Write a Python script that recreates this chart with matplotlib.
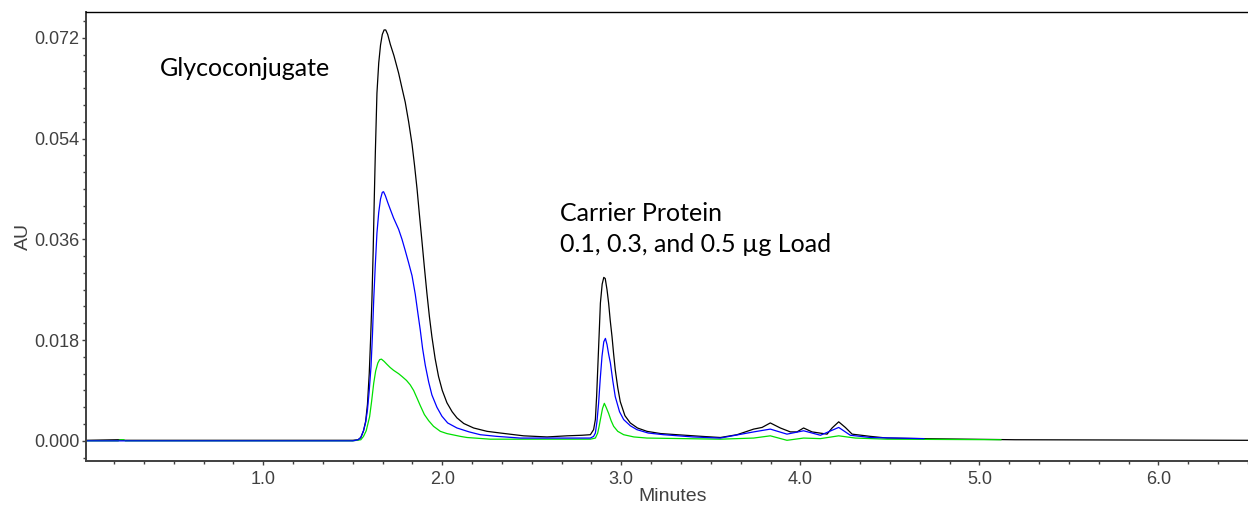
import numpy as np
import matplotlib
matplotlib.use("Agg")
import matplotlib.pyplot as plt
from matplotlib.ticker import MultipleLocator, FormatStrFormatter

## Chromatogram traces (time in minutes, absorbance in AU)
## 0.5 ug load
time_black = [0.01, 0.19, 0.23, 1.50, 1.530, 1.545, 1.560, 1.572, 1.582, 1.592,
              1.600, 1.607, 1.614, 1.620, 1.626, 1.635, 1.645, 1.655, 1.665, 1.675,
              1.684, 1.695, 1.710, 1.730, 1.756, 1.775, 1.793, 1.812, 1.831, 1.845,
              1.859, 1.872, 1.886, 1.900, 1.914, 1.928, 1.942, 1.960, 1.979, 2.000,
              2.026, 2.055, 2.082, 2.120, 2.175, 2.250, 2.324, 2.454, 2.585, 2.697,
              2.780, 2.827, 2.845, 2.855, 2.862, 2.868, 2.876, 2.883, 2.893, 2.902,
              2.910, 2.920, 2.929, 2.938, 2.948, 2.957, 2.966, 2.980, 2.994, 3.020,
              3.050, 3.090, 3.143, 3.220, 3.311, 3.450, 3.553, 3.646, 3.739, 3.786,
              3.832, 3.888, 3.944, 3.981, 4.018, 4.065, 4.149, 4.177, 4.214, 4.251,
              4.289, 4.391, 4.484, 4.670, 5.20, 6.50]
au_black = [0.0001, 0.0002, 0.0001, 0.0001, 0.0002, 0.0006, 0.0018, 0.0035, 0.0065, 0.0120,
            0.0185, 0.0252, 0.0340, 0.0431, 0.0514, 0.0621, 0.0675, 0.0707, 0.0726, 0.0734,
            0.0734, 0.0726, 0.0708, 0.0688, 0.0657, 0.0630, 0.0605, 0.0570, 0.0530, 0.0492,
            0.0450, 0.0405, 0.0358, 0.0310, 0.0264, 0.0222, 0.0186, 0.0147, 0.0115, 0.0090,
            0.0068, 0.0052, 0.0041, 0.0031, 0.0023, 0.0017, 0.0014, 0.0009, 0.0007, 0.0009,
            0.0010, 0.0011, 0.0020, 0.0038, 0.0080, 0.0127, 0.0190, 0.0246, 0.0280, 0.0292,
            0.0290, 0.0270, 0.0246, 0.0215, 0.0186, 0.0155, 0.0127, 0.0095, 0.0070, 0.0045,
            0.0032, 0.0023, 0.0017, 0.0013, 0.0011, 0.0008, 0.0006, 0.0011, 0.0021, 0.0024,
            0.0032, 0.0023, 0.0016, 0.0016, 0.0023, 0.0016, 0.0012, 0.0023, 0.0034, 0.0024,
            0.0012, 0.0008, 0.0005, 0.0004, 0.0002, 0.0001]

## 0.3 ug load
time_blue = [0.01, 0.23, 0.32, 1.50, 1.530, 1.545, 1.560, 1.572, 1.582, 1.592,
             1.602, 1.610, 1.617, 1.626, 1.635, 1.645, 1.655, 1.665, 1.672, 1.682,
             1.695, 1.709, 1.728, 1.756, 1.775, 1.793, 1.812, 1.831, 1.849, 1.865,
             1.877, 1.890, 1.905, 1.924, 1.942, 1.970, 1.998, 2.030, 2.082, 2.150,
             2.212, 2.305, 2.436, 2.827, 2.845, 2.855, 2.864, 2.873, 2.882, 2.892,
             2.902, 2.911, 2.920, 2.929, 2.939, 2.952, 2.966, 2.990, 3.013, 3.050,
             3.087, 3.150, 3.236, 3.400, 3.553, 3.739, 3.832, 3.925, 4.018, 4.112,
             4.214, 4.279, 4.391, 4.690]
au_blue = [0.0, 0.0, 0.0, 0.0, 0.0002, 0.0006, 0.0018, 0.0033, 0.0055, 0.0090,
           0.0133, 0.0190, 0.0252, 0.0315, 0.0371, 0.0408, 0.0432, 0.0444, 0.0445, 0.0438,
           0.0426, 0.0414, 0.0398, 0.0378, 0.0360, 0.0340, 0.0318, 0.0295, 0.0262, 0.0225,
           0.0198, 0.0165, 0.0135, 0.0105, 0.0082, 0.0060, 0.0044, 0.0032, 0.0023, 0.0016,
           0.0011, 0.0008, 0.0005, 0.0005, 0.0008, 0.0014, 0.0035, 0.0067, 0.0110, 0.0151,
           0.0177, 0.0183, 0.0172, 0.0155, 0.0139, 0.0108, 0.0079, 0.0052, 0.0038, 0.0027,
           0.0020, 0.0014, 0.0011, 0.0007, 0.0005, 0.0016, 0.0021, 0.0012, 0.0018, 0.0010,
           0.0024, 0.0010, 0.0006, 0.0004]

## 0.1 ug load
time_green = [0.01, 0.19, 0.20, 0.22, 0.23, 1.50, 1.545, 1.560, 1.575, 1.594,
              1.605, 1.617, 1.628, 1.640, 1.650, 1.660, 1.675, 1.690, 1.709, 1.728,
              1.756, 1.775, 1.800, 1.821, 1.840, 1.858, 1.877, 1.900, 1.924, 1.951,
              1.989, 2.026, 2.101, 2.138, 2.268, 2.827, 2.855, 2.868, 2.876, 2.883,
              2.895, 2.905, 2.915, 2.929, 2.943, 2.957, 2.980, 3.013, 3.070, 3.143,
              3.553, 3.739, 3.832, 3.925, 4.018, 4.112, 4.214, 4.307, 4.484, 5.12]
au_green = [0.0, 0.0, 0.0002, 0.0002, 0.0, 0.0, 0.0002, 0.0008, 0.0018, 0.0043,
            0.0070, 0.0103, 0.0125, 0.0139, 0.0145, 0.0146, 0.0142, 0.0137, 0.0131, 0.0126,
            0.0120, 0.0115, 0.0108, 0.0100, 0.0090, 0.0077, 0.0063, 0.0047, 0.0036, 0.0026,
            0.0017, 0.0013, 0.0008, 0.0006, 0.0003, 0.0003, 0.0005, 0.0014, 0.0026, 0.0038,
            0.0058, 0.0067, 0.0060, 0.0049, 0.0036, 0.0026, 0.0017, 0.0011, 0.0007, 0.0005,
            0.0003, 0.0005, 0.0009, 0.0001, 0.0005, 0.0004, 0.0009, 0.0005, 0.0003, 0.0002]

x_ticks = [1.0, 2.0, 3.0, 4.0, 5.0, 6.0]
y_ticks = [0.000, 0.018, 0.036, 0.054, 0.072]

plt.rcParams["font.family"] = ["Liberation Sans", "DejaVu Sans"]

fig = plt.figure(figsize=(12.48, 5.05), dpi=100)
ax = fig.add_axes([0.0689, 0.0871, 0.9311, 0.8891])

## Draw traces
ax.plot(time_black, au_black, color="black", lw=0.9)
ax.plot(time_green, au_green, color="#00e000", lw=0.9)
ax.plot(time_blue, au_blue, color="#0000ff", lw=0.9)

ax.set_xlim(0.01, 6.5)
ax.set_ylim(-0.0036, 0.0766)

ax.set_xticks(x_ticks)
ax.set_yticks(y_ticks)
ax.xaxis.set_major_formatter(FormatStrFormatter("%.1f"))
ax.yaxis.set_major_formatter(FormatStrFormatter("%.3f"))
ax.xaxis.set_minor_locator(MultipleLocator(1 / 6))
ax.yaxis.set_minor_locator(MultipleLocator(0.003))

ax.tick_params(axis="both", which="major", direction="out", length=3,
               width=1, color="#404040", labelsize=13, labelcolor="#404040")
ax.tick_params(axis="both", which="minor", direction="out", length=2,
               width=1, color="#404040")
ax.tick_params(axis="x", which="major", pad=4)
ax.tick_params(axis="y", which="major", pad=1.5)

for side in ["left", "bottom"]:
    ax.spines[side].set_color("#404040")
    ax.spines[side].set_linewidth(1.4)
ax.spines["top"].set_color("black")
ax.spines["top"].set_linewidth(1.0)
ax.spines["right"].set_visible(False)

ax.set_xlabel("Minutes", fontsize=14, color="#404040", labelpad=0.3)
ax.xaxis.label.set_x(0.505)
ax.set_ylabel("AU", fontsize=14, color="#404040", labelpad=2)

## Peak annotations
ax.text(0.425, 0.0652, "Glycoconjugate", fontsize=18, family="Lato",
        ha="left", va="baseline", color="black")
ax.text(2.659, 0.0392, "Carrier Protein", fontsize=18, family="Lato",
        ha="left", va="baseline", color="black")
ax.text(2.659, 0.0338, "0.1, 0.3, and 0.5 \u00b5g Load", fontsize=18, family="Lato",
        ha="left", va="baseline", color="black")

plt.savefig("out.png", dpi=100)
